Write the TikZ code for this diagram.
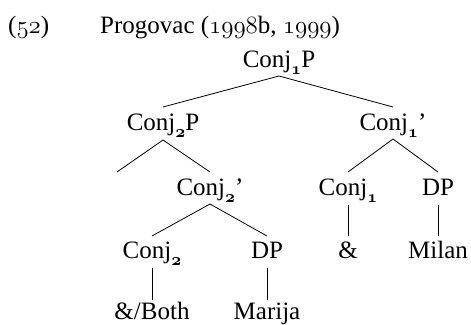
\documentclass[tikz,border=0pt]{standalone}
\usepackage{fontspec}
\setmainfont{Liberation Serif}
\newcommand{\osn}[1]{{\usefont{OML}{cmm}{m}{it}#1}}
\newcommand{\os}[1]{\raisebox{-0.28em}{\fontsize{17}{17}\selectfont\usefont{OML}{cmm}{b}{it}#1}}
\begin{document}
\begin{tikzpicture}[x=1pt,y=-1pt,
  lab/.style={anchor=base,inner sep=0pt,font=\fontsize{25}{30}\selectfont},
  edge/.style={line width=0.8pt}]
\useasboundingbox (0,0) rectangle (471,324);
% header
\node[lab,anchor=base west] (num) at (8,33) {(\osn{52})};
\node[lab,anchor=base west] (src) at (100,33) {Progovac (\osn{1998}b, \osn{1999})};
% tree nodes
\node[lab] (c1p) at (279,67) {Conj\os{1}P};
\node[lab] (c2p) at (163,130) {Conj\os{2}P};
\node[lab] (c1b) at (393,130) {Conj\os{1}’};
\coordinate (empty) at (117,172);
\node[lab] (c2b) at (210,195) {Conj\os{2}’};
\node[lab] (c1) at (348,195) {Conj\os{1}};
\node[lab] (dp1) at (438,195) {DP};
\node[lab] (c2) at (152,258) {Conj\os{2}};
\node[lab] (dp2) at (267,258) {DP};
\node[lab] (amp) at (348,258) {\&};
\node[lab] (milan) at (438,258) {Milan};
\node[lab] (both) at (152,319) {\&/Both};
\node[lab] (marija) at (267,319) {Marija};
% connectors
\draw[edge] ([yshift=-9pt]c1p.base) -- ([yshift=23pt]c2p.base);
\draw[edge] ([yshift=-9pt]c1p.base) -- ([yshift=23pt]c1b.base);
\draw[edge] ([yshift=-10pt]c2p.base) -- (empty);
\draw[edge] ([yshift=-10pt]c2p.base) -- ([yshift=23pt]c2b.base);
\draw[edge] ([yshift=-9pt]c1b.base) -- ([yshift=23pt]c1.base);
\draw[edge] ([yshift=-9pt]c1b.base) -- ([yshift=23pt]dp1.base);
\draw[edge] ([yshift=-9pt]c2b.base) -- ([yshift=22pt]c2.base);
\draw[edge] ([yshift=-9pt]c2b.base) -- ([yshift=22pt]dp2.base);
\draw[edge] ([yshift=-10pt]c1.base) -- ([yshift=22pt]amp.base);
\draw[edge] ([yshift=-10pt]dp1.base) -- ([yshift=22pt]milan.base);
\draw[edge] ([yshift=-10pt]c2.base) -- ([yshift=19pt]both.base);
\draw[edge] ([yshift=-10pt]dp2.base) -- ([yshift=19pt]marija.base);
\end{tikzpicture}
\end{document}
